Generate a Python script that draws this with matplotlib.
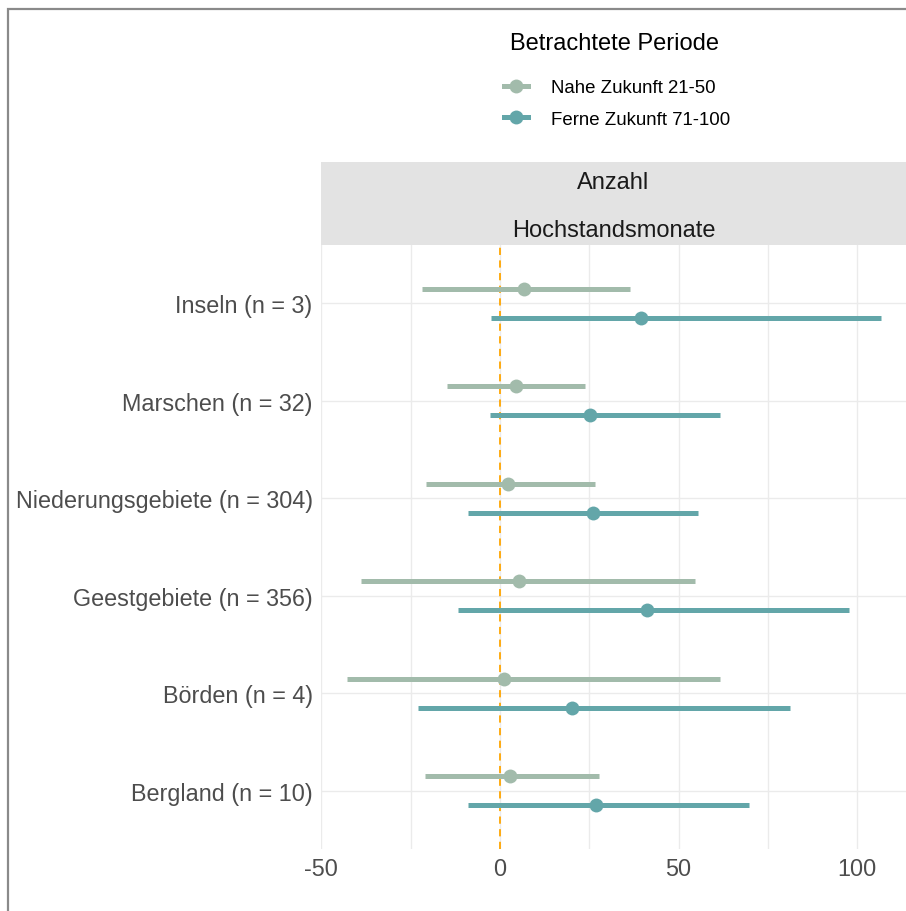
import matplotlib
matplotlib.use("Agg")
import matplotlib.pyplot as plt
from matplotlib.lines import Line2D
from matplotlib.patches import Rectangle
import numpy as np

plt.rcParams['font.family'] = ['Liberation Sans', 'DejaVu Sans']

# Regions (top to bottom) and their estimates
regions = ["Inseln (n = 3)", "Marschen (n = 32)", "Niederungsgebiete (n = 304)",
           "Geestgebiete (n = 356)", "Börden (n = 4)", "Bergland (n = 10)"]

near_mid = [6.6, 4.5, 2.3, 5.3, 1.0, 2.7]
near_lo = [-21.8, -14.7, -20.8, -38.8, -42.7, -21.0]
near_hi = [36.5, 23.9, 26.6, 54.5, 61.5, 27.6]

far_mid = [39.4, 25.3, 26.0, 41.2, 20.1, 26.8]
far_lo = [-2.5, -2.7, -8.9, -11.8, -23.0, -8.9]
far_hi = [106.6, 61.5, 55.4, 97.8, 81.2, 69.8]

periods = ["Nahe Zukunft 21-50", "Ferne Zukunft 71-100"]
colors = ["#A2BBAB", "#63A6A9"]

x_ticks = [-50, 0, 50, 100]

W, H = 906, 912
fig = plt.figure(figsize=(W / 100, H / 100), dpi=100)
fig.patch.set_facecolor("white")

def fx(px):
    return px / W

def fy(py):
    return 1 - py / H

# Outer frame of the figure
fig.patches.append(Rectangle((fx(8), fy(960)), 1.2, (960 - 10) / H,
                             transform=fig.transFigure, fill=False,
                             edgecolor="#8a8a8a", lw=1.6, zorder=0))

panel_l, panel_r, panel_t, panel_b = 321, 906, 246, 850
ax = fig.add_axes([fx(panel_l), fy(panel_b), (panel_r - panel_l) / W,
                   (panel_b - panel_t) / H])

n = len(regions)
ypos = np.arange(n, 0, -1).astype(float)
dodge = 0.15

for (mid, lo, hi, col, off) in [(near_mid, near_lo, near_hi, colors[0], dodge),
                                (far_mid, far_lo, far_hi, colors[1], -dodge)]:
    yy = ypos + off
    ax.hlines(yy, lo, hi, color=col, lw=3.6, zorder=3, capstyle="butt")
    ax.plot(mid, yy, "o", color=col, ms=10, mew=0, zorder=4)

ax.axvline(0, color="#FFA500", lw=1.3, dashes=(4, 3), zorder=2)

ax.set_xlim(-50.1, 113.7)
ax.set_ylim(0.4, n + 0.6)
ax.set_xticks(x_ticks)
ax.set_xticklabels([str(t) for t in x_ticks])
ax.set_xticks([-25, 25, 75], minor=True)
ax.set_yticks(ypos)
ax.set_yticklabels(regions)
ax.tick_params(axis="both", which="both", length=0, labelsize=16.8,
               labelcolor="#4D4D4D")
ax.tick_params(axis="y", pad=6)
ax.tick_params(axis="x", pad=6)
ax.grid(True, which="both", color="#EBEBEB", lw=1.0, zorder=0)
ax.set_axisbelow(True)
for s in ax.spines.values():
    s.set_visible(False)

# Facet strip
strip = fig.add_axes([fx(panel_l), fy(panel_t), (panel_r - panel_l) / W,
                      (panel_t - 163) / H])
strip.set_facecolor("#E3E3E3")
strip.set_xticks([])
strip.set_yticks([])
for s in strip.spines.values():
    s.set_visible(False)
strip.text(0.5, 1 - (183 - 163) / (246 - 163), "Anzahl", ha="center", va="center",
           fontsize=17, color="#1A1A1A", transform=strip.transAxes)
strip.text(0.5, 1 - (231 - 163) / (246 - 163), "Hochstandsmonate", ha="center",
           va="center", fontsize=17, color="#1A1A1A", transform=strip.transAxes)

# Legend
fig.text(fx(615), fy(44), "Betrachtete Periode", ha="center", va="center",
         fontsize=17, color="black")
handles = [Line2D([0], [0], color=c, lw=3.6, marker="o", ms=10, mew=0)
           for c in colors]
fig.legend(handles, periods, loc="upper left",
           bbox_to_anchor=(fx(504), fy(80)), frameon=False, fontsize=13.4,
           handlelength=1.3, handletextpad=1.2, labelspacing=0.8,
           borderpad=0, borderaxespad=0)

fig.savefig("out.png", dpi=100, facecolor="white")
